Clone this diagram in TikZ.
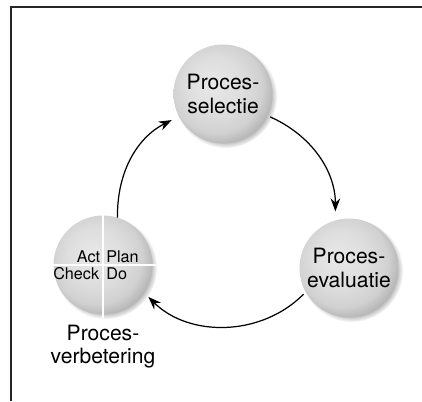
\documentclass[tikz,border=0pt]{standalone}
\usepackage{fontspec}
\setmainfont{TeX Gyre Heros}
\usetikzlibrary{positioning,arrows.meta,shadows,fadings}
\pgfdeclareradialshading{procball}{\pgfpoint{-6bp}{6bp}}{%
  color(0bp)=(black!9); color(14bp)=(black!13); color(23bp)=(black!18);
  color(30bp)=(black!32); color(50bp)=(black!32)}
\tikzset{
  procnode/.style={circle,minimum size=1.98cm,inner sep=0pt,outer sep=0pt,
    shading=procball,align=center,font=\fontsize{12}{13.4}\selectfont,
    circular drop shadow={shadow scale=1.04,shadow xshift=1.4pt,shadow yshift=-1.4pt,
      opacity=0.55,fill=black!60}},
  cyclearr/.style={-{Stealth[length=2.6mm,width=1.9mm]},line width=0.7pt},
  crossln/.style={white,line width=1.2pt},
  pdcatxt/.style={font=\fontsize{9.2}{10}\selectfont,inner sep=0pt},
  frameln/.style={line width=0.9pt,black!85},
}

\begin{document}
\begin{tikzpicture}
  \useasboundingbox (0,0) rectangle (8.44,8.02);
  % frame, only top and left edge
  \draw[frameln] (0.22,0) -- (0.22,7.88) -- (8.44,7.88);
  % the three process circles
  \node[procnode] (ps) at (4.46,6.14) {Proces-\\selectie};
  \node[procnode] (pe) at (6.98,2.66) {Proces-\\evaluatie};
  \node[procnode] (pv) at (2.06,2.72) {};
  % PDCA quarters
  \draw[crossln] ([yshift=0.04cm]pv.north) -- ([yshift=-0.06cm]pv.south);
  \draw[crossln] ([xshift=-0.04cm]pv.west) -- ([xshift=0.06cm]pv.east);
  \node[pdcatxt,anchor=base east] (act) at ([xshift=-0.05cm,yshift=0.06cm]pv.center) {Act};
  \node[pdcatxt,anchor=base west] (plan) at ([xshift=0.06cm,yshift=0.06cm]pv.center) {Plan};
  \node[pdcatxt,anchor=base east] (check) at ([xshift=-0.07cm,yshift=-0.29cm]pv.center) {Check};
  \node[pdcatxt,anchor=base west] (do) at ([xshift=0.06cm,yshift=-0.29cm]pv.center) {Do};
  \node[below=0.2cm of pv,align=center,inner sep=0pt,
    font=\fontsize{12}{13.4}\selectfont] (pvlbl) {Proces-\\verbetering};
  % the cycle
  \draw[cyclearr,shorten >=0.16cm] (pv.73) to[bend left=32] (ps.207);
  \draw[cyclearr,shorten <=0.06cm,shorten >=0.18cm] (ps.-26) to[bend left=33] (pe.106);
  \draw[cyclearr,shorten <=0.06cm,shorten >=0.12cm] (pe.209) to[bend left=45] (pv.-34);
\end{tikzpicture}
\end{document}
